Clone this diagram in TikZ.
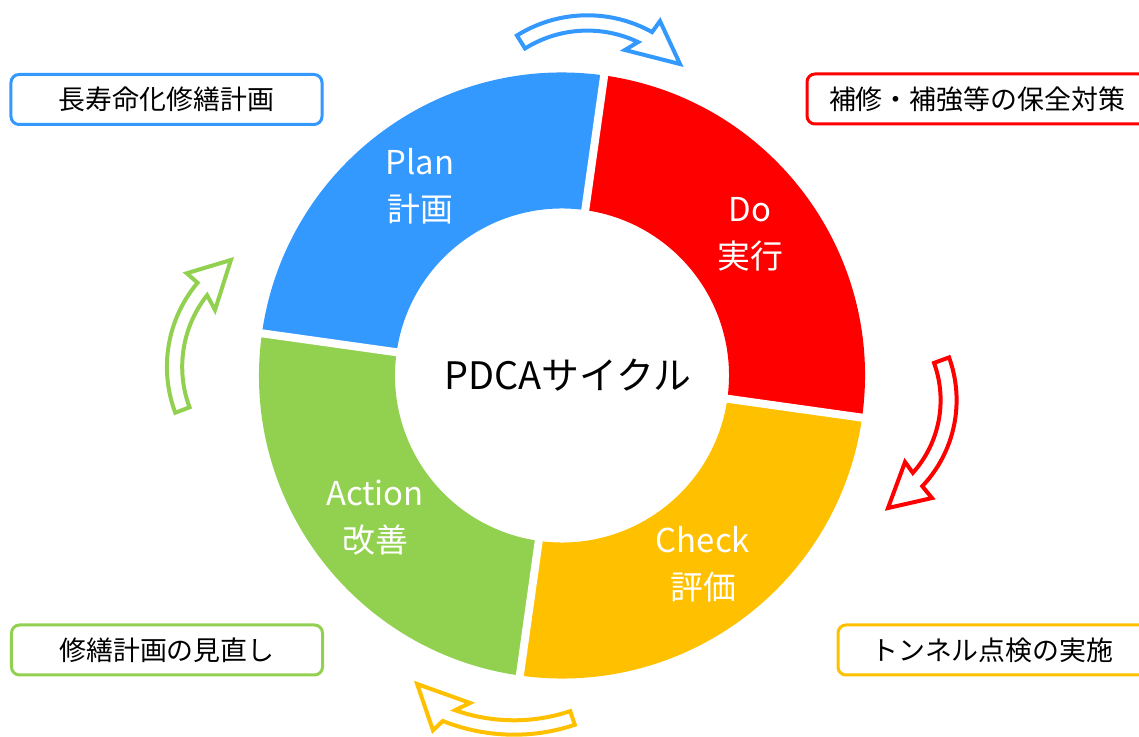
\documentclass[tikz,border=0pt]{standalone}
\usepackage{fontspec}
\setmainfont{Noto Sans CJK JP}
\definecolor{cblue}{HTML}{3399FF}
\definecolor{cred}{HTML}{FF0000}
\definecolor{cyel}{HTML}{FFC000}
\definecolor{cgrn}{HTML}{92D050}
\tikzset{
  seglabel/.style={text=white, align=center, font=\fontsize{33}{47}\selectfont, inner sep=0pt},
  infobox/.style={draw=#1, line width=3bp, rounded corners=8bp, fill=white, inner sep=0pt,
    minimum height=50bp, text=black, font=\fontsize{27}{30}\selectfont},
  hollowarrow/.style={draw=#1, line width=4bp, fill=white, line join=miter},
  gapline/.style={white, line width=8bp},
}
\begin{document}
\begin{tikzpicture}[x=1bp,y=1bp]
\useasboundingbox (0,0) rectangle (1139,737);
\clip (0,0) rectangle (1139,737);
% ring
\begin{scope}[shift={(562,361.5)}]
  \def\Ro{303}\def\Ri{167}
  \fill[cblue] (82:\Ro) arc[start angle=82,end angle=172,radius=\Ro] -- (172:\Ri) arc[start angle=172,end angle=82,radius=\Ri] -- cycle;
  \fill[cgrn] (172:\Ro) arc[start angle=172,end angle=262,radius=\Ro] -- (262:\Ri) arc[start angle=262,end angle=172,radius=\Ri] -- cycle;
  \fill[cyel] (-98:\Ro) arc[start angle=-98,end angle=-8,radius=\Ro] -- (-8:\Ri) arc[start angle=-8,end angle=-98,radius=\Ri] -- cycle;
  \fill[cred] (-8:\Ro) arc[start angle=-8,end angle=82,radius=\Ro] -- (82:\Ri) arc[start angle=82,end angle=-8,radius=\Ri] -- cycle;
  \foreach \a in {82,-8,-98,172} \draw[gapline] (\a:150) -- (\a:312);
\end{scope}
% labels
\node[seglabel] (plan) at (420,550.5) {Plan\\計画};
\node[seglabel] (do) at (750,502.5) {Do\\実行};
\node[seglabel] (check) at (703,172.5) {Check\\評価};
\node[seglabel] (action) at (375,219.5) {Action\\改善};
\node[font=\fontsize{38}{42}\selectfont, inner sep=0pt] (title) at (568,361.5) {PDCAサイクル};
% boxes
\node[infobox=cblue, minimum width=311bp] (b1) at (166.5,637.5) {長寿命化修繕計画};
\node[infobox=cred, minimum width=340bp] (b2) at (977,638) {補修・補強等の保全対策};
\node[infobox=cyel, minimum width=309bp] (b3) at (992.5,87) {トンネル点検の実施};
\node[infobox=cgrn, minimum width=311bp] (b4) at (167,87) {修繕計画の見直し};
% arrows
\begin{scope}[shift={(587.4,588.7)}]
  \draw[hollowarrow=cblue] (122:133) arc[start angle=122,end angle=60.9,radius=133] -- (60.3:146.5) -- (42.3:125.2) -- (69.1:105.2) -- (64.5:117.7) arc[start angle=64.5,end angle=122,radius=117.7] -- cycle;
\end{scope}
\begin{scope}[shift={(831.6,336.8)}]
  \draw[hollowarrow=cred] (20:125) arc[start angle=20,end angle=-43.5,radius=125] -- (-44.25:140.2) -- (-62.4:121.7) -- (-40.1:96) -- (-41.8:109) arc[start angle=-41.8,end angle=20,radius=109] -- cycle;
\end{scope}
\begin{scope}[shift={(514,193.9)}]
  \draw[hollowarrow=cyel] (-71.5:191.6) arc[start angle=-71.5,end angle=-111.8,radius=191.6] -- (-113.4:204) -- (-124.5:171) -- (-105.4:165.8) -- (-109.4:177.2) arc[start angle=-109.4,end angle=-71.5,radius=177.2] -- cycle;
\end{scope}
\begin{scope}[shift={(297.4,370.2)}]
  \draw[hollowarrow=cgrn] (200.6:130.5) arc[start angle=200.6,end angle=139.9,radius=130.5] -- (139.8:144.9) -- (121.9:125.8) -- (145.4:100.1) -- (141.6:115.2) arc[start angle=141.6,end angle=200.6,radius=115.2] -- cycle;
\end{scope}
\end{tikzpicture}
\end{document}
